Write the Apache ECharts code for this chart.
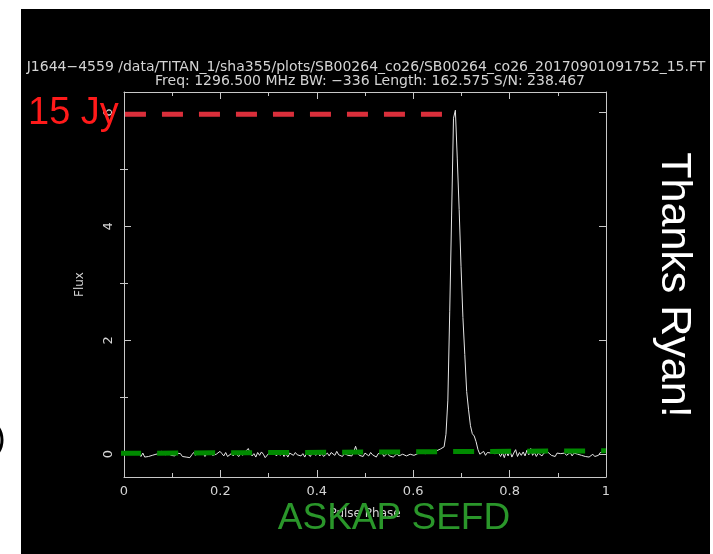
<!DOCTYPE html>
<html>
<head>
<meta charset="utf-8">
<script src="https://cdn.jsdelivr.net/npm/echarts@6/dist/echarts.min.js"></script>
<style>
  html, body { margin: 0; padding: 0; background: #ffffff; }
  #bg { position: absolute; left: 21px; top: 9px; width: 689px; height: 545px; background: #000; }
  #chart { position: absolute; left: 0; top: 0; width: 713px; height: 554px; }
</style>
</head>
<body>
<div id="bg"></div>
<div id="chart"></div>
<script>
// ---- data ----
const titleLine1 = "J1644\u22124559 /data/TITAN_1/sha355/plots/SB00264_co26/SB00264_co26_20170901091752_15.FT";
const titleLine2 = "Freq: 1296.500 MHz BW: \u2212336 Length: 162.575 S/N: 238.467";
const xTickValues = [0, 0.2, 0.4, 0.6, 0.8, 1];
const yMajorTicks = [0, 2, 4, 6];
const yMinorTicks = [1, 3, 5];
const nBins = 256;
// pulse profile flux per bin (bin i at phase i/256)
const flux = [
  0.01, -0.02, 0.00, -0.03, 0.01, -0.02, 0.04, -0.01, 0.03, -0.04, 0.02, -0.05,
  -0.06, -0.04, -0.05, -0.02, -0.03, 0.00, 0.03, 0.01, 0.05, 0.02, -0.01, 0.03,
  0.00, -0.02, 0.01, -0.03, 0.02, 0.05, 0.01, -0.04, -0.02, -0.05, -0.03, -0.06,
  -0.01, 0.03, -0.02, 0.04, 0.00, -0.03, 0.02, -0.04, 0.01, -0.01, 0.03, -0.02,
  -0.05, 0.00, 0.02, 0.05, 0.01, -0.03, 0.03, -0.04, -0.02, 0.01, -0.03, 0.02,
  0.00, -0.04, 0.02, -0.02, 0.03, 0.01, 0.10, 0.02, -0.03, 0.01, -0.05, 0.03,
  -0.02, 0.04, 0.00, -0.06, -0.03, 0.02, -0.01, 0.04, 0.01, -0.03, 0.03, -0.02,
  0.02, -0.04, 0.01, -0.05, 0.02, 0.00, -0.02, 0.03, -0.01, 0.02, -0.03, 0.01,
  -0.05, 0.02, -0.01, -0.04, 0.03, 0.00, -0.02, 0.04, -0.03, 0.01, -0.04, -0.01,
  0.02, -0.03, 0.03, 0.00, -0.02, 0.05, -0.01, 0.02, -0.04, 0.01, 0.03, -0.02,
  0.01, -0.03, 0.04, 0.14, 0.03, -0.02, 0.01, -0.04, 0.02, 0.00, -0.03, 0.03,
  -0.01, 0.02, -0.05, 0.01, -0.02, 0.03, -0.04, -0.01, 0.02, -0.03, 0.00, -0.05,
  -0.02, 0.01, -0.03, -0.01, 0.00, -0.02, -0.03, -0.01, 0.00, 0.01, -0.02, 0.00,
  0.01, 0.03, 0.02, 0.03, 0.01, 0.02, 0.03, 0.01, 0.04, 0.05, 0.06, 0.08,
  0.09, 0.10, 0.13, 0.35, 0.95, 2.5, 4.2, 5.9, 6.04, 5.2, 4.3, 3.3,
  2.4, 1.75, 1.1, 0.78, 0.50, 0.36, 0.32, 0.22, 0.08, 0.00,
  -0.03, 0.05, -0.02, 0.03, 0.01, 0.02, 0.00, 0.01, -0.01, 0.02,
  -0.04, 0.03, -0.06, 0.05, -0.03, 0.06, -0.05, 0.02, 0.08, -0.04, 0.03, -0.02,
  0.04, -0.03, 0.07, -0.01, 0.10, -0.02, 0.03, -0.04, 0.02, 0.00, -0.03, 0.02,
  0.01, 0.04, 0.02, -0.02, 0.01, -0.04, 0.02, 0.03, 0.01, -0.01, 0.02, -0.02,
  0.01, 0.03, -0.03, 0.02, -0.01, 0.00, -0.03, -0.02, 0.01, -0.04, -0.02, -0.05,
  -0.03, 0.00, -0.04, -0.06, -0.02, 0.03, 0.05, 0.04, 0.06
];
// "15 Jy" reference level line
const jyPhase = [0.002, 0.666];
const jyFlux = [5.97, 5.97];
// ASKAP SEFD line
const sefdPhase = [-0.008, 1.0];
const sefdFlux = [0.015, 0.06];

// ---- build ----
const profileData = flux.map((v, i) => [i / nBins, v]);
const jyData = jyPhase.map((p, i) => [p, jyFlux[i]]);
const sefdData = sefdPhase.map((p, i) => [p, sefdFlux[i]]);

const axisColor = '#c8c8c8';
const labelColor = '#d4d4d4';
const font = 'DejaVu Sans';

const yBase = {
  type: 'value', min: -0.4, max: 6.36, gridIndex: 0,
  splitLine: { show: false }
};

const chart = echarts.init(document.getElementById('chart'), null, { renderer: 'canvas' });
chart.setOption({
  backgroundColor: 'transparent',
  animation: false,
  grid: { left: 124, right: 107, top: 92, bottom: 77 },
  xAxis: [
    {
      type: 'value', min: 0, max: 1, interval: 0.2, position: 'bottom',
      axisLine: { show: true, onZero: false, lineStyle: { color: axisColor, width: 1 } },
      axisTick: { show: true, inside: true, length: 7, lineStyle: { color: axisColor } },
      minorTick: { show: true, splitNumber: 2, length: 4, lineStyle: { color: axisColor } },
      axisLabel: { color: labelColor, fontSize: 13, fontFamily: font, margin: 8,
        customValues: xTickValues },
      splitLine: { show: false },
      name: 'Pulse Phase', nameLocation: 'middle', nameGap: 31,
      nameTextStyle: { color: labelColor, fontSize: 12, fontFamily: font }
    },
    {
      type: 'value', min: 0, max: 1, interval: 0.2, position: 'top',
      axisLine: { show: true, onZero: false, lineStyle: { color: axisColor, width: 1 } },
      axisTick: { show: true, inside: true, length: 7, lineStyle: { color: axisColor } },
      minorTick: { show: true, splitNumber: 2, length: 4, lineStyle: { color: axisColor } },
      axisLabel: { show: false },
      splitLine: { show: false }
    }
  ],
  yAxis: [
    Object.assign({}, yBase, {
      position: 'left',
      axisLine: { show: true, onZero: false, lineStyle: { color: axisColor, width: 1 } },
      axisTick: { show: true, inside: true, length: 7, customValues: yMajorTicks, lineStyle: { color: axisColor } },
      axisLabel: { show: true, customValues: yMajorTicks, rotate: 90, color: labelColor,
        fontSize: 13, fontFamily: font, margin: 9 },
      name: 'Flux', nameLocation: 'middle', nameGap: 38, nameRotate: 90,
      nameTextStyle: { color: labelColor, fontSize: 12, fontFamily: font }
    }),
    Object.assign({}, yBase, {
      position: 'right',
      axisLine: { show: true, onZero: false, lineStyle: { color: axisColor, width: 1 } },
      axisTick: { show: true, inside: true, length: 7, customValues: yMajorTicks, lineStyle: { color: axisColor } },
      axisLabel: { show: false }
    }),
    Object.assign({}, yBase, {
      position: 'left',
      axisLine: { show: false },
      axisTick: { show: true, inside: true, length: 4, customValues: yMinorTicks, lineStyle: { color: axisColor } },
      axisLabel: { show: false }
    }),
    Object.assign({}, yBase, {
      position: 'right',
      axisLine: { show: false },
      axisTick: { show: true, inside: true, length: 4, customValues: yMinorTicks, lineStyle: { color: axisColor } },
      axisLabel: { show: false }
    })
  ],
  series: [
    {
      type: 'line', data: profileData, showSymbol: false, symbol: 'none',
      lineStyle: { color: '#e6e6e6', width: 1 }, z: 2
    },
    {
      type: 'line', data: jyData, showSymbol: false, symbol: 'none', clip: false,
      lineStyle: { color: '#da2f3b', width: 5, type: [21, 16], cap: 'butt' }, z: 3
    },
    {
      type: 'line', data: sefdData, showSymbol: false, symbol: 'none', clip: false,
      lineStyle: { color: '#008a00', width: 5, type: [21, 16], cap: 'butt' }, z: 4
    }
  ],
  graphic: [
    { type: 'text', x: 366, y: 67, z: 10,
      style: { text: titleLine1, fill: labelColor, font: '14px "DejaVu Sans"', align: 'center', verticalAlign: 'middle' } },
    { type: 'text', x: 370, y: 81, z: 10,
      style: { text: titleLine2, fill: labelColor, font: '14px "DejaVu Sans"', align: 'center', verticalAlign: 'middle' } },
    { type: 'text', x: 28, y: 114, z: 10,
      style: { text: '15 Jy', fill: '#ff1a1a', font: '38px "Liberation Sans"', align: 'left', verticalAlign: 'middle' } },
    { type: 'text', x: 394, y: 519, z: 10,
      style: { text: 'ASKAP SEFD', fill: '#2a962a', font: '37px "Liberation Sans"', align: 'center', verticalAlign: 'middle' } },
    { type: 'text', x: 674, y: 285, rotation: -Math.PI / 2, z: 10,
      style: { text: 'Thanks Ryan!', fill: '#ffffff', font: '43px "Liberation Sans"', align: 'center', verticalAlign: 'middle' } },
    { type: 'ellipse', z: 10, shape: { cx: -10, cy: 440, rx: 12, ry: 17 },
      style: { fill: 'none', stroke: '#000', lineWidth: 3 } }
  ]
});
</script>
</body>
</html>
